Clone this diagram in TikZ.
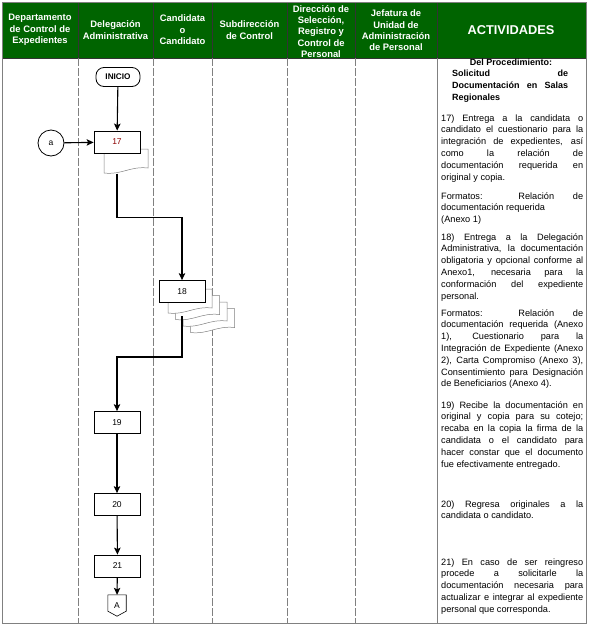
\documentclass[tikz,border=0pt]{standalone}
\usepackage{fontspec}
\setmainfont{Liberation Sans}
\usetikzlibrary{arrows.meta}

\definecolor{verde}{RGB}{0,100,0}
\definecolor{gris}{RGB}{128,128,128}
\hyphenpenalty=10000
\exhyphenpenalty=10000

\begin{document}
\begin{tikzpicture}[x=1pt, y=-1pt, >={Stealth[length=7pt, width=6.5pt, inset=1.5pt]},
    caja/.style={draw, line width=0.8pt, fill=white, minimum width=46pt, minimum height=22pt, inner sep=0pt, font=\fontsize{8.5}{9}\selectfont},
    flujo/.style={->, line width=1.1pt},
    carril/.style={gris, dash pattern=on 8pt off 2pt, line width=0.6pt},
    hoja/.style={draw=gris, fill=white, line width=0.5pt},
    titulo/.style={text=white, align=center, inner sep=0pt, font=\bfseries\fontsize{9.4}{11.4}\selectfont},
    texto/.style={anchor=base west, inner sep=0pt, text width=142pt, align=justify, font=\fontsize{9.2}{11.8}\selectfont}]
    \useasboundingbox (0,0) rectangle (590,627);

    % encabezado
    \fill[verde] (2,2) rectangle (586,58);
    \foreach \x in {78,153,212,287,355,437}
        \draw[black!80, line width=0.6pt] (\x,2) -- (\x,58);
    \draw[black!80, line width=0.6pt] (2,58) -- (586,58);
    \node[titulo] (h1) at (40,30) {Departamento\\de Control de\\Expedientes};
    \node[titulo] (h2) at (115.5,30) {Delegación\\Administrativa};
    \node[titulo] (h3) at (182.5,30) {Candidata\\o\\Candidato};
    \node[titulo] (h4) at (249.5,30) {Subdirección\\de Control};
    \node[titulo] (h5) at (321,31.5) {Dirección de\\Selección,\\Registro y\\Control de\\Personal};
    \node[titulo] (h6) at (396,30.5) {Jefatura de\\Unidad de\\Administración\\de Personal};
    \node[titulo, font=\bfseries\fontsize{12.8}{14}\selectfont] (h7) at (511,30) {ACTIVIDADES};

    % carriles
    \foreach \x in {78,153,212,287,355}
        \draw[carril] (\x,58) -- (\x,623);
    \draw[gris, line width=0.8pt] (437,58) -- (437,623);
    \draw[gris, line width=0.8pt] (2,2) rectangle (586,623);

    % diagrama
    \node[caja, rounded corners=8pt, minimum width=44pt, minimum height=19pt, font=\bfseries\fontsize{8.2}{9}\selectfont] (inicio) at (118,77) {INICIO};
    \draw[hoja] (104,173) -- (104,149) -- (148,149) -- (148,168) .. controls (130,166) and (122,175) .. (104,173);
    \node[caja, text=red!55!black] (n17) at (117,142) {17};
    \coordinate (d17) at (117,173.5);
    \node[circle, draw, line width=0.8pt, minimum size=26pt, inner sep=0pt, font=\fontsize{8.5}{9}\selectfont] (a) at (51,143) {a};

    \foreach \k in {3,2,1,0} {
        \pgfmathsetmacro\xa{168+7.5*\k}
        \pgfmathsetmacro\ya{289+6.5*\k}
        \draw[hoja] (\xa,\ya+24) -- (\xa,\ya) -- (\xa+44,\ya) -- (\xa+44,\ya+19) .. controls (\xa+26,\ya+17) and (\xa+18,\ya+26) .. (\xa,\ya+24);
    }
    \node[caja] (n18) at (182,291.5) {18};
    \coordinate (d18) at (182,316);

    \node[caja] (n19) at (117,422.5) {19};
    \node[caja] (n20) at (117,504.5) {20};
    \node[caja] (n21) at (117.5,566) {21};
    \node[minimum width=18pt, minimum height=21pt, inner sep=0pt, font=\fontsize{8.5}{9}\selectfont] (pA) at (117,605.5) {A};
    \draw[line width=0.6pt] (pA.north west) -- (pA.north east) -- ([yshift=5pt]pA.south east) -- (pA.south) -- ([yshift=5pt]pA.south west) -- cycle;

    \draw[flujo] (inicio) -- (n17);
    \draw[flujo] (a) -- (n17);
    \draw[flujo] (d17) -- ++(0,44) -| (n18);
    \draw[flujo] (d18) -- ++(0,41) -| (n19);
    \draw[flujo] (n19) -- (n20);
    \draw[flujo] (n20) -- (n21);
    \draw[flujo] (n21) -- (pA.north);

    % actividades
    \node[anchor=base, inner sep=0pt, font=\bfseries\fontsize{9}{11.8}\selectfont] (proc) at (511,65) {Del Procedimiento:};
    \node[texto, text width=116pt, font=\bfseries\fontsize{9}{11.8}\selectfont] (sol) at (452,76.5) {Solicitud de\linebreak Documentación en Salas\linebreak Regionales};
    \node[texto] (t17) at (441,121) {17) Entrega a la candidata o\linebreak candidato el cuestionario para la\linebreak integración de expedientes, así\linebreak como la relación de\linebreak documentación requerida en\linebreak original y copia.};
    \node[texto] (f17) at (441,199) {Formatos: Relación de\linebreak documentación requerida\\(Anexo 1)};
    \node[texto] (t18) at (441,240) {18) Entrega a la Delegación\linebreak Administrativa, la documentación\linebreak obligatoria y opcional conforme al\linebreak Anexo1, necesaria para la\linebreak conformación del expediente\linebreak personal.};
    \node[texto] (f18) at (441,316) {Formatos: Relación de\linebreak documentación requerida (Anexo\linebreak 1), Cuestionario para la\linebreak Integración de Expediente (Anexo\linebreak 2), Carta Compromiso (Anexo 3),\linebreak Consentimiento para Designación\linebreak de Beneficiarios (Anexo 4).};
    \node[texto] (t19) at (441,408) {19) Recibe la documentación en\linebreak original y copia para su cotejo;\linebreak recaba en la copia la firma de la\linebreak candidata o el candidato para\linebreak hacer constar que el documento\linebreak fue efectivamente entregado.};
    \node[texto] (t20) at (441,507) {20) Regresa originales a la\linebreak candidata o candidato.};
    \node[texto] (t21) at (441,565) {21) En caso de ser reingreso\linebreak procede a solicitarle la\linebreak documentación necesaria para\linebreak actualizar e integrar al expediente\linebreak personal que corresponda.};
\end{tikzpicture}
\end{document}
